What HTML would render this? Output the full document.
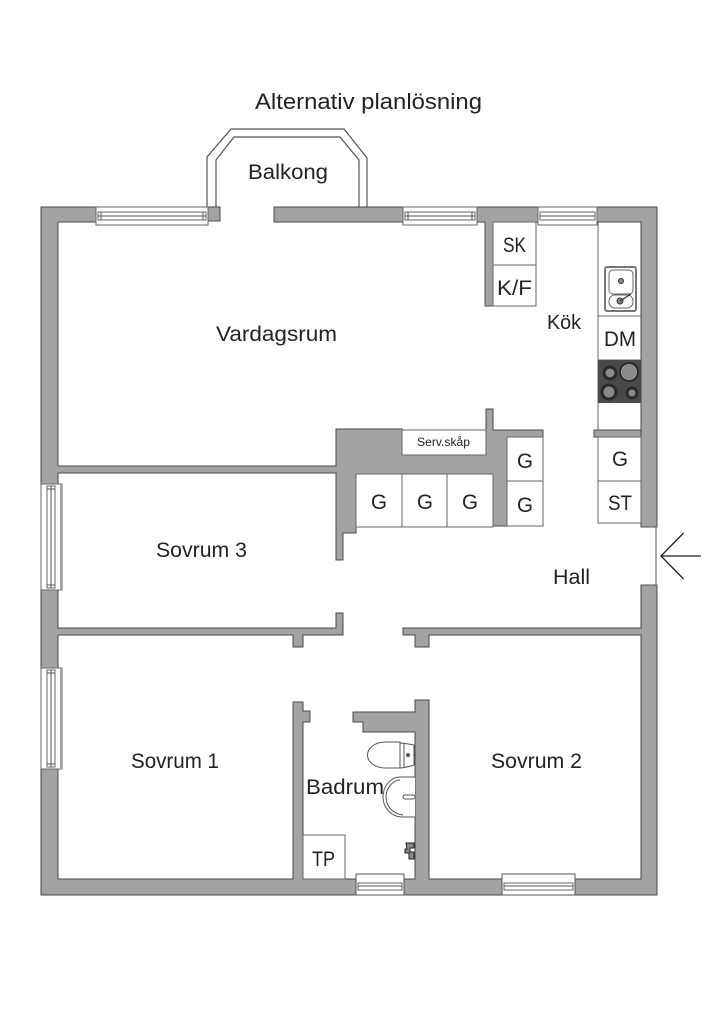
<!DOCTYPE html>
<html><head><meta charset="utf-8"><style>
html,body{margin:0;padding:0;background:#fff}
svg{display:block}
text{font-family:"Liberation Sans",sans-serif;fill:#222;text-anchor:start}
.w{fill:#a3a3a3;stroke:#4a4a4a;stroke-width:1}
.b{fill:#fff;stroke:#666;stroke-width:1}
.n{fill:none;stroke:#555;stroke-width:1}
.t{fill:none;stroke:#444;stroke-width:1}
</style></head><body>
<svg width="724" height="1024" viewBox="0 0 724 1024" xmlns="http://www.w3.org/2000/svg">
<!-- balcony -->
<path d="M207 207V157L231 129H344L367 158V207M216 207V160L234 137H340L359 160V207" fill="none" stroke="#555" stroke-width="1.2"/>
<!-- outer walls -->
<path class="w" d="M41 207H96V222H58V466H336V429H402V455H486V409H493V430H543V437H507V526H493V474H356V533H343V560H336V473H58V628H336V613H343V635H303V647H293V635H58V879H293V702H303V711H310V722H303V879H356V895H41Z"/>
<path class="w" d="M207 207H220V221H207Z"/>
<path class="w" d="M274 207H403V222H274Z"/>
<path class="w" d="M477 207H538V222H493V306H485V222H477Z"/>
<path class="w" d="M597 207H657V527H641V222H597Z"/>
<path class="w" d="M594 430H641V437H594Z"/>
<path class="w" d="M657 585V895H575V879H641V635H429V647H415V635H403V628H641V585Z"/>
<path class="w" d="M353 712H415V700H429V879H502V895H404V879H415V732H363V722H353Z"/>
<!-- windows top -->
<g>
<rect x="96" y="207" width="112" height="18" fill="#fff" stroke="#666"/>
<rect x="98" y="212" width="108" height="8" fill="#fff" stroke="#666"/>
<path class="n" d="M98 216H206M101 212V220M203 212V220"/>
<rect x="403" y="207" width="74" height="18" fill="#fff" stroke="#666"/>
<rect x="405" y="212" width="70" height="8" fill="#fff" stroke="#666"/>
<path class="n" d="M405 216H475M408 212V220M472 212V220"/>
<rect x="538" y="207" width="59" height="18" fill="#fff" stroke="#666"/>
<rect x="540" y="212" width="55" height="8" fill="#fff" stroke="#666"/>
<path class="n" d="M540 216H595"/>
</g>
<!-- windows left -->
<g>
<rect x="41" y="484" width="21" height="106" fill="#fff" stroke="#666"/>
<rect x="47" y="486" width="8" height="102" fill="#fff" stroke="#666"/>
<path class="n" d="M51 486V588M47 489H55M47 585H55"/>
<rect x="60" y="484" width="2" height="106" fill="#a3a3a3"/>
<rect x="41" y="668" width="21" height="101" fill="#fff" stroke="#666"/>
<rect x="47" y="670" width="8" height="97" fill="#fff" stroke="#666"/>
<path class="n" d="M51 670V767M47 673H55M47 764H55"/>
<rect x="60" y="668" width="2" height="101" fill="#a3a3a3"/>
</g>
<!-- windows bottom -->
<g>
<rect x="356" y="874" width="48" height="21" fill="#fff" stroke="#555"/>
<rect x="358" y="883" width="44" height="7" fill="#fff" stroke="#666"/>
<path class="n" d="M358 886H402"/>
<rect x="502" y="874" width="73" height="21" fill="#fff" stroke="#555"/>
<rect x="504" y="883" width="69" height="7" fill="#fff" stroke="#666"/>
<path class="n" d="M504 886H573"/>
</g>
<!-- entry -->
<path class="n" d="M656 527V585M641 527H657M641 585H657" stroke="#777"/>
<path d="M701 556H661M683.5 533L661 556L683.5 579" fill="none" stroke="#222" stroke-width="1.3"/>
<!-- cabinets -->
<rect class="b" x="493" y="222" width="43" height="43"/>
<rect class="b" x="493" y="265" width="43" height="41"/>
<path class="b" d="M598 222V430" fill="none"/>
<path class="b" d="M598 316H641"/>
<path class="b" d="M598 360H641"/>
<rect class="b" x="598" y="437" width="43" height="44"/>
<rect class="b" x="598" y="481" width="43" height="42"/>
<rect class="b" x="402" y="430" width="84" height="25" stroke="#444"/>
<rect class="b" x="356" y="474" width="46" height="53"/>
<rect class="b" x="402" y="474" width="45" height="53"/>
<rect class="b" x="447" y="474" width="46" height="53"/>
<rect class="b" x="507" y="437" width="36" height="44"/>
<rect class="b" x="507" y="481" width="36" height="45"/>
<rect class="b" x="303" y="835" width="42" height="44"/>
<!-- sink -->
<rect x="605" y="267" width="31" height="44" rx="2" fill="#fff" stroke="#777" stroke-width="2"/>
<rect x="609" y="270" width="24" height="24" rx="4" fill="#fff" stroke="#666"/>
<rect x="609" y="295" width="24" height="13" rx="6" fill="#fff" stroke="#666"/>
<circle cx="621" cy="281" r="2.5" fill="#888" stroke="#333"/>
<circle cx="620" cy="301" r="3" fill="#888" stroke="#333"/>
<path d="M620 301L631 294" stroke="#333" stroke-width="1.2"/>
<!-- stove -->
<rect x="598" y="360" width="43" height="43" fill="#4a4a4a"/>
<g fill="#8a8a8a" stroke="#2a2a2a" stroke-width="3">
<circle cx="610" cy="373" r="6"/>
<circle cx="629" cy="372" r="8.500"/>
<circle cx="609" cy="392" r="7"/>
<circle cx="632" cy="393" r="5"/>
</g>
<circle cx="629" cy="372" r="7.500" fill="none" stroke="#bbb" stroke-width="0.8"/>
<!-- toilet -->
<path d="M400 742H386C375 742 367.500 748 367.500 755S375 768 386 768H400Z" fill="#fff" stroke="#555"/>
<path d="M400 743C404 743 407 744 414 745V765C407 767 404 768 400 768Z" fill="#fff" stroke="#555"/>
<path d="M404 743V767" class="n"/>
<circle cx="408" cy="755" r="2" fill="#555"/>
<!-- basin -->
<path d="M415 777H400C390 777 383 787 383 797C383 808 392 817 402 817H415" fill="#fff" stroke="#555"/>
<path d="M400 780C393 780 386 788 386 797C386 807 394 814 403 815" class="n"/>
<rect x="403" y="795" width="12" height="4" rx="2" fill="#fff" stroke="#555"/>
<!-- shower mixer -->
<path d="M406 843H414V848H410V852H414V859H409V853H405V849H407Z" fill="#888" stroke="#222" stroke-width="1"/>
<!-- labels -->
<text x="255" y="109" font-size="22" textLength="227" lengthAdjust="spacingAndGlyphs">Alternativ planlösning</text>
<text x="248" y="179" font-size="21" textLength="80" lengthAdjust="spacingAndGlyphs">Balkong</text>
<text x="216" y="341" font-size="21" textLength="121" lengthAdjust="spacingAndGlyphs">Vardagsrum</text>
<text x="156" y="557" font-size="21" textLength="91" lengthAdjust="spacingAndGlyphs">Sovrum 3</text>
<text x="553" y="584" font-size="21" textLength="37" lengthAdjust="spacingAndGlyphs">Hall</text>
<text x="131" y="768" font-size="21" textLength="88" lengthAdjust="spacingAndGlyphs">Sovrum 1</text>
<text x="491" y="768" font-size="21" textLength="91" lengthAdjust="spacingAndGlyphs">Sovrum 2</text>
<text x="306" y="794" font-size="21" textLength="78" lengthAdjust="spacingAndGlyphs">Badrum</text>
<text x="547" y="329" font-size="20" textLength="34" lengthAdjust="spacingAndGlyphs">Kök</text>
<text x="503" y="252" font-size="21" textLength="23" lengthAdjust="spacingAndGlyphs">SK</text>
<text x="497" y="295" font-size="21" textLength="35" lengthAdjust="spacingAndGlyphs">K/F</text>
<text x="604" y="346" font-size="21" textLength="32" lengthAdjust="spacingAndGlyphs">DM</text>
<text x="612" y="466" font-size="21" textLength="16" lengthAdjust="spacingAndGlyphs">G</text>
<text x="608" y="510" font-size="21" textLength="24" lengthAdjust="spacingAndGlyphs">ST</text>
<text x="312" y="866" font-size="21" textLength="23" lengthAdjust="spacingAndGlyphs">TP</text>
<text x="417" y="446" font-size="12" textLength="53" lengthAdjust="spacingAndGlyphs">Serv.skåp</text>
<text x="371" y="509" font-size="21" textLength="16" lengthAdjust="spacingAndGlyphs">G</text>
<text x="417" y="509" font-size="21" textLength="16" lengthAdjust="spacingAndGlyphs">G</text>
<text x="462" y="509" font-size="21" textLength="16" lengthAdjust="spacingAndGlyphs">G</text>
<text x="517" y="468" font-size="21" textLength="16" lengthAdjust="spacingAndGlyphs">G</text>
<text x="517" y="512" font-size="21" textLength="16" lengthAdjust="spacingAndGlyphs">G</text>
</svg>
</body></html>
